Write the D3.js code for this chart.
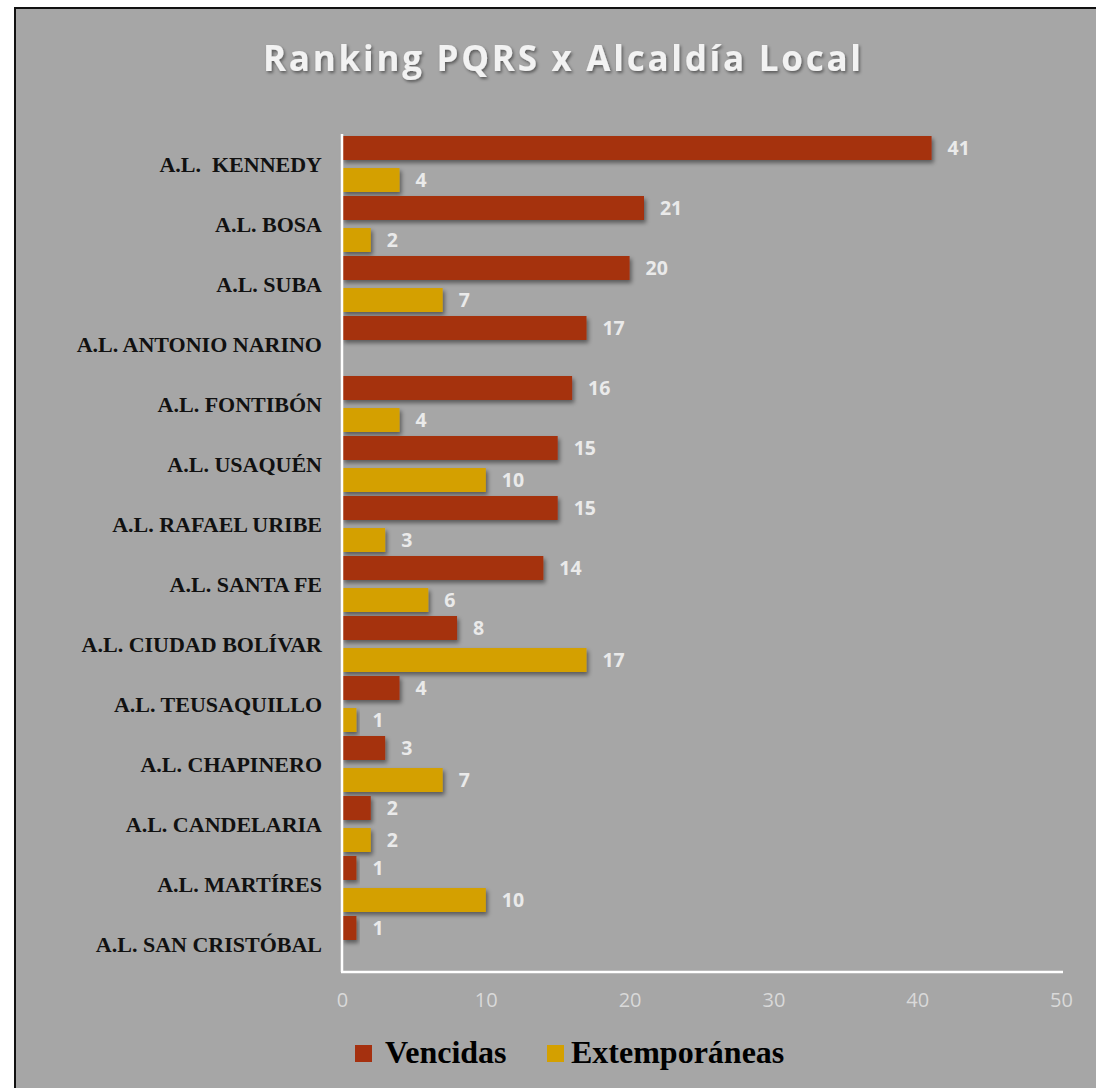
<!DOCTYPE html>
<html><head><meta charset="utf-8">
<script src="https://cdn.jsdelivr.net/npm/d3@7"></script>
<style>
html,body{margin:0;padding:0;background:#fff;}
svg{display:block;}
</style></head>
<body>
<script>
const categories = ["A.L.  KENNEDY","A.L. BOSA","A.L. SUBA","A.L. ANTONIO NARINO","A.L. FONTIBÓN","A.L. USAQUÉN","A.L. RAFAEL URIBE","A.L. SANTA FE","A.L. CIUDAD BOLÍVAR","A.L. TEUSAQUILLO","A.L. CHAPINERO","A.L. CANDELARIA","A.L. MARTÍRES","A.L. SAN CRISTÓBAL"];
const vencidas = [41,21,20,17,16,15,15,14,8,4,3,2,1,1];
const extemporaneas = [4,2,7,null,4,10,3,6,17,1,7,2,10,null];
const seriesNames = ["Vencidas","Extemporáneas"];
const seriesColors = ["#A5300F","#D4A000"];
const xTicks = [0,10,20,30,40,50];
const title = "Ranking PQRS x Alcaldía Local";

const W = 1096, H = 1088;
const svg = d3.select("body").append("svg").attr("width", W).attr("height", H);
const defs = svg.append("defs");
const sh = defs.append("filter").attr("id","barShadow").attr("x","-10%").attr("y","-30%").attr("width","130%").attr("height","180%");
sh.append("feDropShadow").attr("dx",2).attr("dy",3).attr("stdDeviation",2.2).attr("flood-color","#000").attr("flood-opacity",0.45);
const ts = defs.append("filter").attr("id","titleShadow").attr("x","-5%").attr("y","-30%").attr("width","110%").attr("height","160%");
ts.append("feDropShadow").attr("dx",1.5).attr("dy",2).attr("stdDeviation",1.5).attr("flood-color","#000").attr("flood-opacity",0.45);

// background + border
svg.append("rect").attr("x",15).attr("y",8).attr("width",W).attr("height",H).attr("fill","#A6A6A6");
svg.append("rect").attr("x",15).attr("y",8).attr("width",W+10).attr("height",H+10).attr("fill","none").attr("stroke","#111").attr("stroke-width",2);

// title
const tt = svg.append("text").attr("x",562).attr("y",71).attr("text-anchor","middle")
  .attr("font-family","'Open Sans', sans-serif").attr("font-weight",700).attr("font-size",35)
  .attr("fill","#F2F2F2").attr("filter","url(#titleShadow)").text(title);
tt.attr("textLength",598).attr("lengthAdjust","spacing");

const x0 = 342, x1 = 1061, yTop = 134, yBot = 974;
const x = d3.scaleLinear().domain([0,50]).range([x0,x1]);
const y = d3.scaleBand().domain(categories).range([yTop,yBot]).padding(0);
const ySub = d3.scaleBand().domain(seriesNames).range([0,y.bandwidth()]).paddingInner(0.25).paddingOuter(0.0625);

const rows = categories.map((c,i)=>({cat:c, vals:[vencidas[i], extemporaneas[i]]}));

const g = svg.append("g");
rows.forEach(r=>{
  r.vals.forEach((v,si)=>{
    if (v==null) return;
    const yy = y(r.cat) + ySub(seriesNames[si]);
    g.append("rect").attr("x",x(0)).attr("y",yy).attr("width",x(v)-x(0)).attr("height",ySub.bandwidth())
      .attr("fill",seriesColors[si]).attr("filter","url(#barShadow)");
    g.append("text").attr("x",x(v)+16).attr("y",yy+ySub.bandwidth()/2).attr("dy","0.36em")
      .attr("font-family","'Open Sans', sans-serif").attr("font-weight",700).attr("font-size",19.5)
      .attr("fill","#EAEAEA").text(v);
  });
});

// category labels
svg.append("g").selectAll("text").data(categories).join("text")
  .attr("x",322).attr("y",d=>y(d)+y.bandwidth()/2).attr("dy","0.35em").attr("text-anchor","end")
  .attr("font-family","'Liberation Serif', serif").attr("font-weight",700).attr("font-size",22)
  .attr("fill","#111").style("white-space","pre").attr("xml:space","preserve").text(d=>d);

// axes lines
svg.append("line").attr("x1",x0).attr("x2",x0).attr("y1",yTop).attr("y2",972).attr("stroke","#fff").attr("stroke-width",2.5);
svg.append("line").attr("x1",x0-1).attr("x2",1063).attr("y1",972).attr("y2",972).attr("stroke","#fff").attr("stroke-width",2.5);

// x axis tick labels
const xAxis = d3.axisBottom(x).tickValues(xTicks).tickSize(0).tickPadding(0);
const ax = svg.append("g").attr("transform","translate(0,993)").call(xAxis);
ax.select(".domain").remove();
ax.selectAll("text").attr("font-family","'Open Sans', sans-serif").attr("font-size",20).attr("fill","#D9D9D9");

// legend
const leg = svg.append("g");
const legItems = [{n:seriesNames[0],c:seriesColors[0],x:355,tx:385},{n:seriesNames[1],c:seriesColors[1],x:547,tx:571}];
legItems.forEach(d=>{
  leg.append("rect").attr("x",d.x).attr("y",1045).attr("width",17).attr("height",17).attr("fill",d.c);
  leg.append("text").attr("x",d.tx).attr("y",1063).attr("font-family","'Liberation Serif', serif").attr("font-weight",700)
    .attr("font-size",32).attr("fill","#000").text(d.n);
});
</script>
</body></html>
